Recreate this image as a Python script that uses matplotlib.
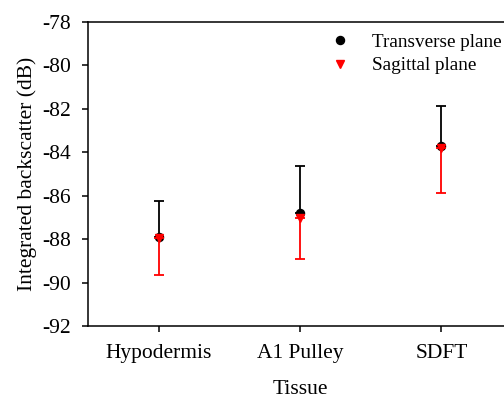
import matplotlib
matplotlib.use("Agg")
import matplotlib.pyplot as plt
from matplotlib.lines import Line2D

# data
tissues = ["Hypodermis", "A1 Pulley", "SDFT"]
transverse_mean = [-87.90, -86.80, -83.71]
transverse_err = [1.64, 2.14, 1.84]
sagittal_mean = [-87.93, -87.01, -83.83]
sagittal_err = [1.74, 1.89, 2.03]

plt.rcParams["font.family"] = ["Liberation Serif", "DejaVu Serif"]
plt.rcParams["axes.unicode_minus"] = False

FS = 15.5

fig = plt.figure(figsize=(5.04, 3.98), dpi=100)
# axes runs past the right edge, like the cropped original
ax = fig.add_axes([88 / 504, 1 - 326 / 398, 424 / 504, 304.3 / 398])

x = list(range(1, len(tissues) + 1))
zeros = [0] * len(x)

ax.errorbar(x, transverse_mean, yerr=[zeros, transverse_err], fmt="o",
            color="black", ecolor="black", markersize=5.8,
            elinewidth=1.3, capsize=3.6, capthick=1.3, zorder=2)
ax.errorbar(x, sagittal_mean, yerr=[sagittal_err, zeros], fmt="v",
            color="red", ecolor="red", markersize=6.2,
            elinewidth=1.3, capsize=3.6, capthick=1.3, zorder=3)

ax.set_xlim(0.5, 3.5)
ax.set_ylim(-92, -78)
ax.set_yticks(range(-92, -77, 2))
ax.set_xticks(x)
ax.set_xticklabels(tissues)

for side in ["left", "bottom", "top"]:
    ax.spines[side].set_linewidth(1.1)
ax.spines["right"].set_visible(False)

ax.tick_params(axis="both", direction="out", length=4, width=1.1, labelsize=FS)
ax.tick_params(axis="y", pad=8)
ax.tick_params(axis="x", pad=9)

ax.set_xlabel("Tissue", fontsize=FS, labelpad=12)
ax.set_ylabel("Integrated backscatter (dB)", fontsize=FS, labelpad=4)

handles = [
    Line2D([], [], marker="o", color="black", linestyle="none", markersize=5.8),
    Line2D([], [], marker="v", color="red", linestyle="none", markersize=6.2),
]
ax.legend(handles, ["Transverse plane", "Sagittal plane"], loc="upper left",
          bbox_to_anchor=(0.5713, 0.9606), frameon=False, fontsize=13.8,
          handlelength=1.0, handletextpad=1.2, borderpad=0,
          borderaxespad=0, labelspacing=0.3)

fig.savefig("out.png", dpi=100)
